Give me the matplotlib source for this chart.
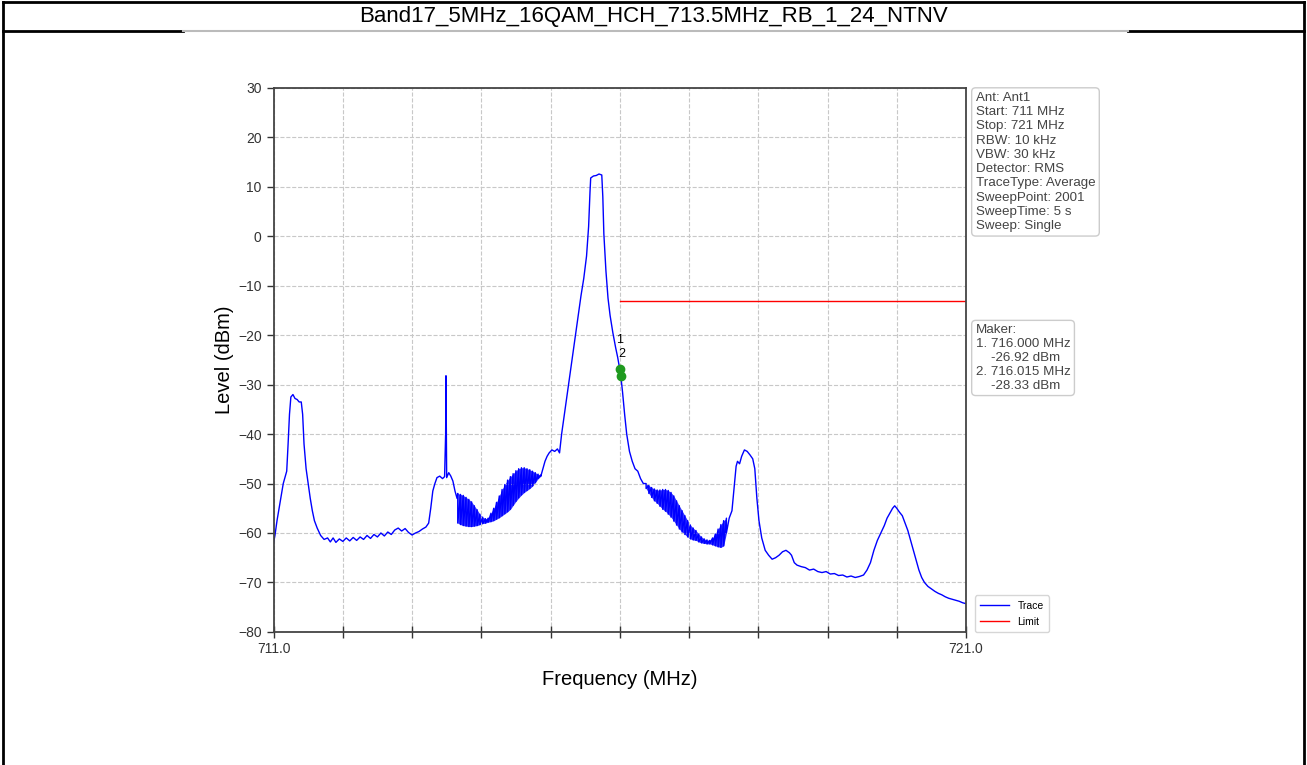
import numpy as np
import matplotlib
matplotlib.use("Agg")
import matplotlib.pyplot as plt
from matplotlib.lines import Line2D
from matplotlib.ticker import MultipleLocator

plt.rcParams['font.family'] = ['Liberation Sans', 'DejaVu Sans']

title = "Band17_5MHz_16QAM_HCH_713.5MHz_RB_1_24_NTNV"

# trace (MHz, dBm)
trace_a_f = [711.00, 711.02, 711.05, 711.08, 711.11, 711.14, 711.17, 711.19, 711.21, 711.23,
             711.25, 711.28, 711.31, 711.34, 711.37, 711.40, 711.42, 711.44, 711.47, 711.50,
             711.53, 711.56, 711.59, 711.63, 711.68, 711.73, 711.78, 711.82, 711.86, 711.90,
             711.95, 712.00, 712.05, 712.10, 712.15, 712.20, 712.25, 712.30, 712.35, 712.40,
             712.45, 712.50, 712.55, 712.60, 712.65, 712.70, 712.75, 712.80, 712.85, 712.90,
             712.95, 713.00, 713.05, 713.10, 713.15, 713.20, 713.24, 713.27, 713.30, 713.33,
             713.36, 713.40, 713.44, 713.47, 713.485, 713.49, 713.495, 713.50, 713.53, 713.56,
             713.59, 713.62, 713.65]
trace_a_l = [-62.0, -60.5, -57.5, -55.0, -52.5, -50.0, -48.5, -47.5, -42.0, -36.0,
             -32.5, -32.0, -32.8, -33.0, -33.5, -33.5, -36.0, -42.0, -47.0, -50.0,
             -53.0, -55.5, -57.5, -59.0, -60.5, -61.3, -61.0, -61.8, -61.0, -61.9,
             -61.2, -61.7, -61.0, -61.6, -60.9, -61.5, -60.8, -61.3, -60.5, -61.1,
             -60.3, -60.8, -60.0, -60.6, -59.8, -60.3, -59.4, -59.0, -59.6, -59.1,
             -59.9, -60.4, -60.0, -59.7, -59.2, -58.8, -58.0, -55.0, -51.5, -50.0,
             -48.8, -48.5, -49.0, -48.6, -40.0, -28.2, -40.0, -48.8, -47.8, -48.5,
             -49.5, -51.5, -53.0]

# first ripple band: top / bottom envelope
band1_f = [713.66, 713.70, 713.74, 713.78, 713.82, 713.86, 713.90, 713.94, 713.98, 714.02,
           714.06, 714.10, 714.14, 714.18, 714.22, 714.26, 714.30, 714.34, 714.38, 714.42,
           714.46, 714.50, 714.54, 714.58, 714.62, 714.66, 714.70, 714.74, 714.78, 714.82,
           714.86]
band1_top = [-52.0, -52.2, -52.4, -52.8, -53.2, -53.7, -54.5, -55.3, -56.2, -56.8,
             -57.1, -57.0, -56.0, -55.0, -53.8, -52.5, -51.2, -50.2, -49.3, -48.6,
             -48.0, -47.4, -47.0, -46.8, -46.8, -47.0, -47.2, -47.5, -47.8, -48.1,
             -48.3]
band1_bot = [-58.0, -58.3, -58.5, -58.6, -58.7, -58.7, -58.6, -58.5, -58.3, -58.1,
             -58.0, -57.8, -57.7, -57.5, -57.2, -56.9, -56.5, -56.1, -55.7, -55.2,
             -54.4, -53.6, -52.9, -52.3, -51.8, -51.4, -51.0, -50.5, -49.8, -49.0,
             -48.5]

trace_b_f = [714.88, 714.92, 714.95, 714.98, 715.02, 715.06, 715.10, 715.13, 715.16, 715.20,
             715.24, 715.28, 715.32, 715.36, 715.40, 715.44, 715.48, 715.52, 715.55, 715.57,
             715.58, 715.62, 715.66, 715.70, 715.74, 715.755, 715.77, 715.80, 715.83, 715.86,
             715.90, 715.94, 715.97, 716.00, 716.015, 716.04, 716.07, 716.10, 716.14, 716.18,
             716.22, 716.26, 716.30, 716.34]
trace_b_l = [-47.5, -45.5, -44.5, -43.8, -43.2, -43.5, -43.0, -43.8, -40.0, -36.0,
             -32.0, -28.0, -24.0, -20.0, -16.0, -12.0, -8.5, -4.0, 2.0, 9.0,
             11.8, 12.2, 12.3, 12.6, 12.4, 8.0, 0.5, -7.0, -12.5, -16.0,
             -19.5, -22.5, -24.5, -26.9, -28.3, -31.5, -36.0, -40.0, -43.5, -45.5,
             -47.0, -47.5, -49.0, -50.0]

# second ripple band
band2_f = [716.38, 716.42, 716.46, 716.50, 716.54, 716.58, 716.62, 716.66, 716.70, 716.74,
           716.78, 716.82, 716.86, 716.90, 716.94, 716.98, 717.02, 717.06, 717.10, 717.14,
           717.18, 717.22, 717.26, 717.30, 717.34, 717.38, 717.42, 717.46, 717.50, 717.54]
band2_top = [-50.0, -50.4, -50.8, -51.1, -51.3, -51.3, -51.2, -51.2, -51.4, -51.8,
             -52.5, -53.5, -54.5, -55.5, -56.5, -57.5, -58.4, -59.0, -59.5, -60.2,
             -60.8, -61.2, -61.4, -61.5, -61.0, -60.2, -59.2, -58.3, -57.5, -57.0]
band2_bot = [-51.0, -52.0, -52.8, -53.5, -54.0, -54.6, -55.2, -55.6, -56.2, -56.8,
             -57.6, -58.4, -59.2, -59.8, -60.3, -60.8, -61.2, -61.4, -61.5, -61.8,
             -62.0, -62.1, -62.2, -62.2, -62.4, -62.6, -62.8, -62.9, -62.6, -60.0]

trace_c_f = [717.58, 717.62, 717.65, 717.68, 717.70, 717.73, 717.76, 717.80, 717.84, 717.88,
             717.92, 717.95, 717.98, 718.01, 718.05, 718.10, 718.15, 718.20, 718.25, 718.30,
             718.35, 718.40, 718.45, 718.48, 718.52, 718.56, 718.62, 718.68, 718.74, 718.80,
             718.86, 718.92, 718.98, 719.04, 719.10, 719.16, 719.22, 719.28, 719.34, 719.40,
             719.46, 719.52, 719.57, 719.62, 719.67, 719.72, 719.77, 719.82, 719.86, 719.90,
             719.94, 719.97, 720.00, 720.04, 720.08, 720.12, 720.16, 720.20, 720.24, 720.28,
             720.32, 720.36, 720.40, 720.45, 720.50, 720.55, 720.60, 720.65, 720.70, 720.75,
             720.80, 720.85, 720.90, 720.95, 721.00]
trace_c_l = [-57.0, -55.5, -51.0, -46.5, -45.5, -46.0, -44.5, -43.2, -43.5, -44.2,
             -45.0, -47.0, -53.0, -57.5, -61.0, -63.5, -64.5, -65.3, -65.0, -64.5,
             -63.8, -63.5, -64.0, -64.5, -66.0, -66.5, -66.8, -67.0, -67.5, -67.3,
             -67.8, -68.0, -67.8, -68.3, -68.2, -68.6, -68.5, -68.9, -68.7, -69.0,
             -68.8, -68.5, -67.5, -66.0, -63.5, -61.5, -60.0, -58.5, -57.0, -56.0,
             -55.0, -54.5, -55.0, -55.8, -56.5, -58.0, -59.5, -61.5, -63.5, -65.5,
             -67.5, -69.0, -70.0, -70.8, -71.3, -71.8, -72.2, -72.5, -72.9, -73.2,
             -73.4, -73.6, -73.8, -74.1, -74.3]

limit_f = [716.0, 721.0]
limit_l = [-13.0, -13.0]

marker_f = [716.000, 716.015]
marker_l = [-26.92, -28.33]

info_lines = ["Ant: Ant1", "Start: 711 MHz", "Stop: 721 MHz", "RBW: 10 kHz", "VBW: 30 kHz",
              "Detector: RMS", "TraceType: Average", "SweepPoint: 2001", "SweepTime: 5 s",
              "Sweep: Single"]


def zigzag(f, top, bot):
    ff, ll = [], []
    for a, t, b in zip(f, top, bot):
        ff += [a, a]
        ll += [t, b]
    return ff, ll


z1f, z1l = zigzag(band1_f, band1_top, band1_bot)
z2f, z2l = zigzag(band2_f, band2_top, band2_bot)
freq = np.array(trace_a_f + z1f + trace_b_f + z2f + trace_c_f)
level = np.array(trace_a_l + z1l + trace_b_l + z2l + trace_c_l)

fig = plt.figure(figsize=(13.07, 7.65), dpi=100)
ax = fig.add_axes([0.2093, 0.174, 0.5298, 0.711])

blue = '#0000ff'
ax.plot(freq, level, color=blue, lw=1.0, label='Trace')
ax.fill_between(band1_f, band1_top, band1_bot, color=blue, alpha=0.8, lw=0)
ax.fill_between(band2_f, band2_top, band2_bot, color=blue, alpha=0.8, lw=0)
ax.plot(limit_f, limit_l, color='#ff0000', lw=1.0, label='Limit')
ax.plot(marker_f, marker_l, 'o', color='#1f9a1f', ms=6, zorder=5)
ax.text(marker_f[0], -21.0, '1', ha='center', va='center', fontsize=9, color='black')
ax.text(marker_f[1] + 0.01, -23.8, '2', ha='center', va='center', fontsize=9, color='black')

ax.set_xlim(711, 721)
ax.set_ylim(-80, 30)
ax.set_xticks([711, 721])
ax.set_xticklabels(['711.0', '721.0'])
ax.xaxis.set_minor_locator(MultipleLocator(1))
ax.yaxis.set_major_locator(MultipleLocator(10))
ax.tick_params(axis='x', which='both', direction='inout', length=8, width=1, labelsize=10, colors='#333333')
ax.tick_params(axis='y', direction='out', length=5, width=1, labelsize=10, colors='#333333')
ax.grid(True, which='both', axis='x', ls='--', color='#c8c8c8', lw=0.8)
ax.grid(True, which='major', axis='y', ls='--', color='#c8c8c8', lw=0.8)
for s in ax.spines.values():
    s.set_color('#444444')
    s.set_linewidth(1.3)

ax.set_xlabel('Frequency (MHz)', fontsize=14.5, labelpad=10)
ax.set_ylabel('Level (dBm)', fontsize=14.5, labelpad=3)

box = dict(boxstyle='round,pad=0.3', fc='white', ec='#cccccc', lw=1)
fig.text(0.7465, 0.880, "\n".join(info_lines), ha='left', va='top', fontsize=9.6,
         linespacing=1.25, color='#444444', bbox=box)
maker_text = ("Maker:\n1. 716.000 MHz\n    -26.92 dBm\n2. 716.015 MHz\n    -28.33 dBm")
fig.text(0.7465, 0.576, maker_text, ha='left', va='top', fontsize=9.6,
         linespacing=1.2, color='#444444', bbox=box)

ax.legend(loc='lower left', bbox_to_anchor=(1.005, -0.01), fontsize=7.5, frameon=True,
          edgecolor='#cccccc', handlelength=2.8, borderpad=0.5, labelspacing=0.6)

fig.text(0.5, 0.978, title, ha='center', va='center', fontsize=16)

# table frame around the picture
frame = dict(color='black', lw=2, transform=fig.transFigure)
fig.add_artist(Line2D([0.002, 0.998], [0.998, 0.998], **frame))
fig.add_artist(Line2D([0.002, 0.002], [0.0, 0.998], **frame))
fig.add_artist(Line2D([0.998, 0.998], [0.0, 0.998], **frame))
fig.add_artist(Line2D([0.002, 0.140], [0.960, 0.960], **frame))
fig.add_artist(Line2D([0.863, 0.998], [0.960, 0.960], **frame))
fig.add_artist(Line2D([0.140, 0.863], [0.960, 0.960], color='#bbbbbb', lw=1.5,
                      transform=fig.transFigure))

fig.savefig('out.png', dpi=100)
